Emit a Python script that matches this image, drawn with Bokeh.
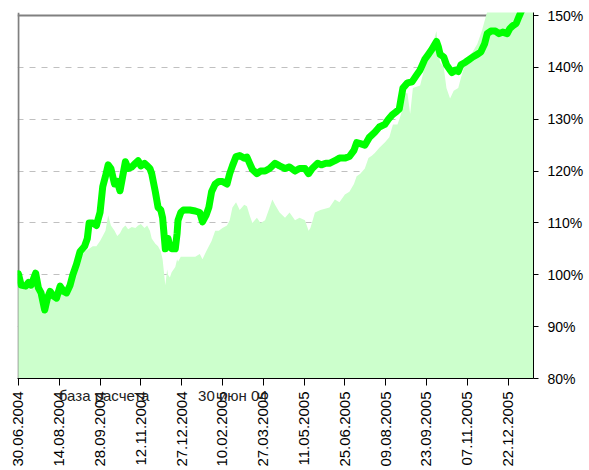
import pandas as pd
from bokeh.plotting import figure
from bokeh.models import (ColumnDataSource, Range1d, FixedTicker, DatetimeTickFormatter,
                          Span, LinearAxis)
from bokeh.embed import file_html
from bokeh.resources import INLINE

base_date = "2004-06-30"

# days after 30.06.2004 and values (%) for the thick green line
line_days = [0, 3, 8, 11, 14, 19, 22, 25, 29, 32, 35, 38, 42, 46, 50, 53, 57, 60, 64, 68,
             73, 76, 78, 82, 86, 90, 93, 96, 99, 102, 106, 109, 112, 115, 118, 121, 125, 129,
             132, 135, 139, 142, 145, 147, 151, 154, 157, 159, 162, 164, 165, 167, 169, 173,
             175, 176, 179, 182, 189, 195, 200, 203, 207, 210, 213, 217, 221, 225, 230, 233,
             236, 240, 244, 249, 252, 255, 258, 263, 267, 272, 277, 283, 288, 294, 299, 305,
             310, 316, 320, 324, 330, 334, 339, 343, 349, 354, 360, 365, 370, 373, 377, 382,
             387, 393, 398, 404, 408, 412, 417, 420, 422, 424, 429, 434, 439, 443, 448, 452,
             456, 461, 463, 465, 469, 472, 476, 478, 482, 485, 488, 493, 497, 501, 506, 510,
             514, 517, 521, 526, 530, 534, 539, 542, 545, 549, 552, 555, 560, 564, 568]
line_values = [100.2, 98.0, 97.8, 98.5, 98.0, 100.3, 97.5, 96.5, 93.2, 95.5, 96.8, 96.0, 95.5,
               97.8, 96.8, 96.5, 98.0, 100.0, 102.0, 104.5, 105.5, 107.0, 110.0, 110.0, 109.5,
               112.0, 117.0, 119.0, 121.2, 120.5, 117.5, 118.0, 116.2, 119.0, 121.8, 120.5,
               120.8, 121.5, 122.0, 121.0, 121.5, 121.0, 120.5, 119.5, 116.0, 113.0, 112.5,
               111.0, 105.0, 106.0, 107.0, 105.5, 105.0, 105.0, 108.0, 110.5, 112.0, 112.5,
               112.5, 112.3, 112.0, 110.2, 111.5, 113.0, 116.0, 117.5, 118.0, 118.0, 117.5,
               119.5, 121.0, 122.8, 123.0, 122.5, 122.7, 121.5, 120.3, 119.5, 120.0, 120.0,
               120.5, 121.5, 121.0, 120.5, 120.8, 120.0, 120.5, 120.5, 119.5, 120.5, 121.5,
               121.2, 121.5, 121.5, 122.0, 122.5, 122.5, 122.8, 124.0, 125.5, 125.3, 125.0,
               126.5, 127.5, 128.5, 129.0, 130.0, 130.8, 131.5, 132.0, 134.0, 136.0, 137.0,
               137.2, 138.5, 139.5, 141.5, 142.5, 143.5, 145.0, 144.0, 142.5, 142.0, 140.5,
               139.5, 139.0, 139.5, 139.2, 140.5, 141.0, 141.5, 142.0, 142.5, 143.0, 144.5,
               146.5, 147.0, 147.0, 146.5, 146.8, 146.5, 147.5, 148.0, 148.5, 149.8, 151.0,
               152.5, 153.0, 153.5]

# days after 30.06.2004 and values (%) for the light green area
area_days = [0, 3, 8, 11, 14, 19, 22, 25, 29, 32, 35, 38, 42, 46, 50, 53, 57, 60, 64, 68, 73,
             78, 82, 86, 90, 93, 96, 99, 102, 106, 109, 112, 115, 118, 121, 125, 129, 132, 135,
             139, 142, 145, 147, 151, 154, 157, 159, 162, 164, 165, 167, 169, 173, 175, 176,
             179, 182, 189, 195, 200, 203, 207, 210, 213, 217, 221, 225, 230, 233, 236, 240,
             244, 249, 252, 255, 258, 263, 267, 272, 277, 280, 283, 288, 294, 299, 305, 310,
             316, 320, 322, 327, 333, 343, 349, 354, 360, 365, 370, 373, 377, 382, 386, 390,
             393, 398, 404, 409, 413, 418, 422, 426, 429, 432, 435, 443, 448, 454, 457, 461,
             463, 465, 469, 472, 476, 480, 485, 488, 493, 501, 506, 511, 517, 521, 530, 568]
area_values = [99.5, 97.5, 97.0, 97.5, 97.0, 99.0, 96.8, 95.5, 92.5, 94.8, 96.0, 95.2, 95.0,
               97.0, 96.0, 96.0, 97.0, 99.0, 101.5, 103.0, 104.5, 105.0, 105.5, 105.5, 106.5,
               107.5, 108.5, 111.5, 109.5, 108.5, 107.5, 108.0, 109.0, 109.5, 108.8, 109.2,
               109.0, 109.5, 109.8, 109.0, 109.5, 108.5, 107.0, 106.0, 105.5, 104.5, 103.0,
               98.0, 101.0, 100.0, 99.5, 100.5, 101.5, 103.0, 102.5, 103.5, 103.5, 103.5,
               103.5, 104.0, 103.0, 104.5, 105.5, 106.5, 108.5, 108.5, 109.0, 109.5, 110.5,
               113.0, 114.0, 112.5, 113.5, 113.2, 111.5, 110.0, 111.0, 110.0, 110.5, 113.0,
               114.5, 113.5, 112.0, 111.0, 112.0, 110.5, 111.0, 110.5, 108.5, 109.0, 112.0,
               112.5, 113.0, 114.5, 114.0, 115.5, 116.0, 117.5, 119.0, 119.5, 120.5, 122.5,
               123.0, 123.5, 124.5, 125.5, 126.5, 129.0, 129.0, 131.0, 135.0, 135.0, 131.0,
               136.0, 136.5, 140.0, 142.0, 144.5, 147.0, 143.0, 141.0, 140.0, 136.0, 134.0,
               135.5, 136.0, 138.0, 141.0, 143.0, 144.5, 147.0, 150.8, 152.0, 155.0, 157.0]

tick_days = [0, 45, 90, 135, 180, 225, 270, 315, 360, 405, 450, 495, 540]
y_ticks = [80, 90, 100, 110, 120, 130, 140, 150]
y_labels = ["80%", "90%", "100%", "110%", "120%", "130%", "140%", "150%"]
grid_levels = [90, 100, 110, 120, 130, 140]
# annotation texts under the axis and the day (after 30.06.2004) each one is centred on
ann_texts = ["база расчета", "30 июн 04"]
ann_days = [94.5, 236.5]

FONT = "Liberation Sans"
t0 = pd.Timestamp(base_date)
line_src = ColumnDataSource(dict(x=t0 + pd.to_timedelta(line_days, unit="D"), y=line_values))
area_src = ColumnDataSource(dict(x=t0 + pd.to_timedelta(area_days, unit="D"), y=area_values))

x_start = t0 - pd.Timedelta(days=1)
x_end = t0 + pd.Timedelta(days=max(area_days))

p = figure(width=586, height=470, x_axis_type="datetime", y_axis_location="right",
           output_backend="svg", toolbar_location=None,
           x_range=Range1d(x_start, x_end), y_range=Range1d(80, 150.58),
           min_border_left=17, min_border_right=51, min_border_top=12, min_border_bottom=92)
p.outline_line_color = None
p.background_fill_color = "white"
p.border_fill_color = "white"

# gray top line at 150% and left frame line (under the data)
p.add_layout(Span(location=150, dimension="width", line_color="#808080", line_width=2,
                  level="underlay"))
p.add_layout(Span(location=t0, dimension="height", line_color="#808080", line_width=2,
                  level="underlay"))

p.varea(x="x", y1=80, y2="y", source=area_src, fill_color="#CCFFCC", fill_alpha=1.0)
p.line(x="x", y="y", source=line_src, line_color="#00FF00", line_width=7,
       line_join="round", line_cap="round")

# grid
p.xgrid.visible = False
p.ygrid.ticker = FixedTicker(ticks=grid_levels)
p.ygrid.grid_line_color = "#C0C0C0"
p.ygrid.grid_line_dash = "6 6"
p.ygrid.grid_line_width = 1

# x axis
xa = p.xaxis[0]
xa.ticker = FixedTicker(ticks=[(t0 + pd.Timedelta(days=d)).value / 1e6 for d in tick_days])
fmt = "%d.%m.%Y"
xa.formatter = DatetimeTickFormatter(milliseconds=fmt, seconds=fmt, minsec=fmt, minutes=fmt,
                                     hourmin=fmt, hours=fmt, days=fmt, months=fmt, years=fmt)
xa.major_label_orientation = 1.5707963
xa.axis_line_color = "black"
xa.major_tick_line_color = "black"
xa.major_tick_out = 7
xa.major_tick_in = 0
xa.minor_tick_line_color = None
xa.major_label_standoff = 6
xa.major_label_text_font = FONT
xa.major_label_text_font_size = "15px"
xa.major_label_text_color = "black"

# secondary bottom axis that only carries the two annotation texts, pulled up
# over the date labels with a negative standoff
ann_ms = [(t0 + pd.Timedelta(days=d)).value / 1e6 for d in ann_days]
ax2 = LinearAxis(ticker=FixedTicker(ticks=ann_ms),
                 major_label_overrides={m: t for m, t in zip(ann_ms, ann_texts)},
                 axis_line_color=None, major_tick_line_color=None, minor_tick_line_color=None,
                 major_tick_out=0, major_tick_in=0, minor_tick_out=0, minor_tick_in=0,
                 major_label_standoff=-83, major_label_orientation="horizontal",
                 major_label_text_font=FONT, major_label_text_font_size="15px",
                 major_label_text_color="#222222")
p.add_layout(ax2, "below")

# y axis
ya = p.yaxis[0]
ya.ticker = FixedTicker(ticks=y_ticks)
ya.major_label_overrides = {t: l for t, l in zip(y_ticks, y_labels)}
ya.axis_line_color = "black"
ya.major_tick_line_color = "black"
ya.major_tick_out = 5
ya.major_tick_in = 0
ya.minor_tick_line_color = None
ya.major_label_standoff = 9
ya.major_label_text_font = FONT
ya.major_label_text_font_size = "14px"
ya.major_label_text_color = "black"

open("out.html", "w").write(file_html(p, INLINE))
